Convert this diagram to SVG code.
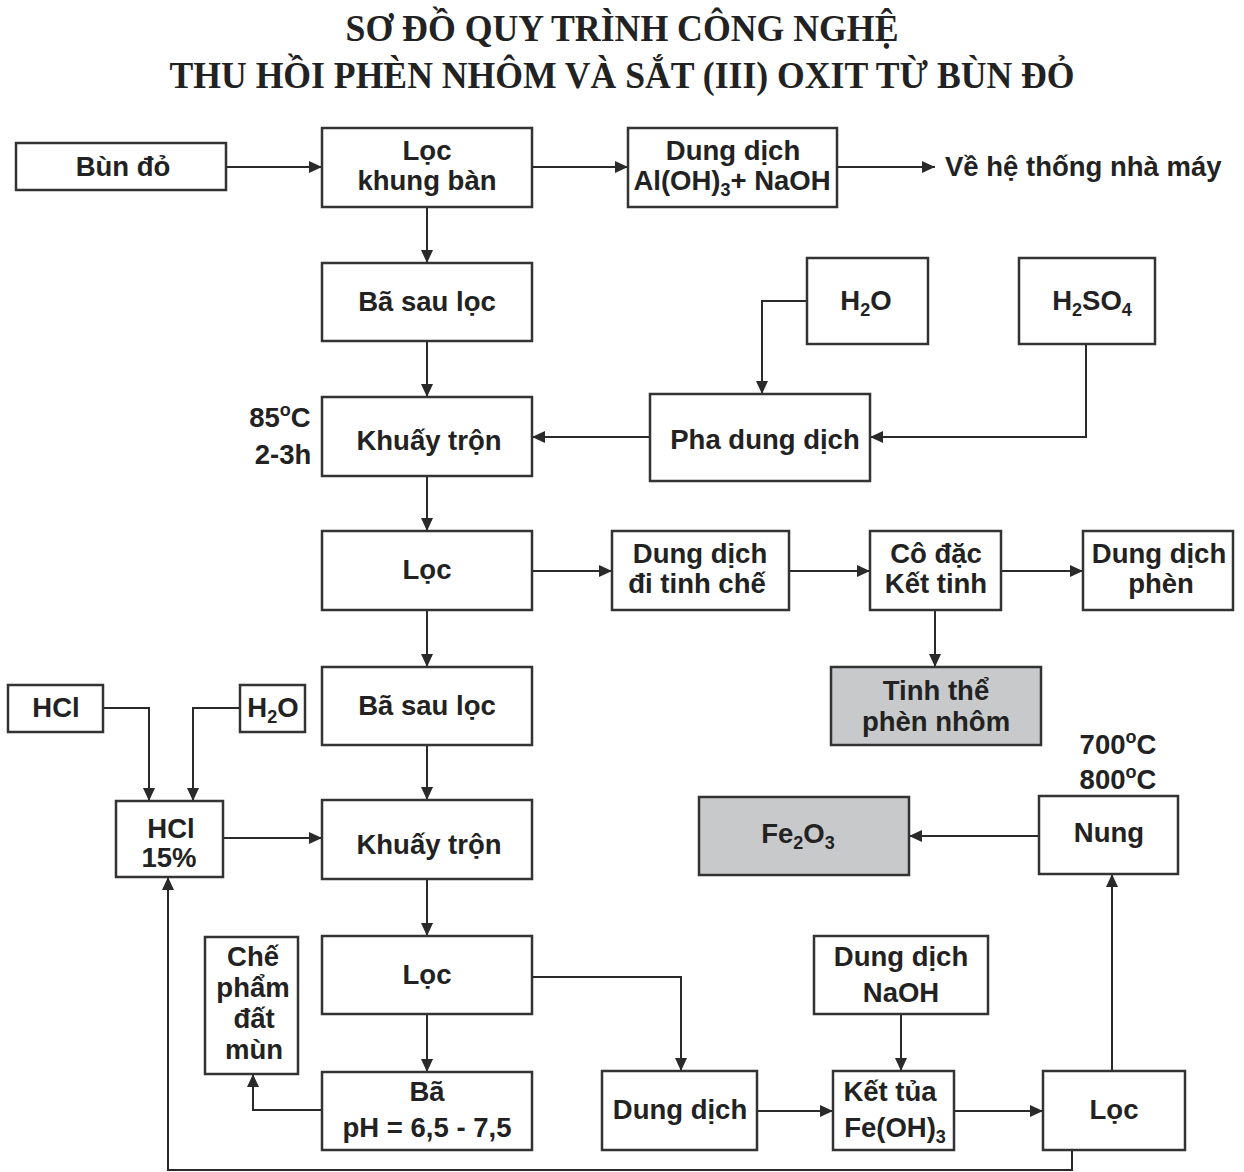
<svg xmlns="http://www.w3.org/2000/svg" width="1244" height="1172" viewBox="0 0 1244 1172">
<defs>
<marker id="ah" markerUnits="userSpaceOnUse" markerWidth="14" markerHeight="12" refX="13" refY="6" orient="auto">
<path d="M0,0 L13,6 L0,12 z" fill="#2a2a2a"/>
</marker>
<style>
.bx{fill:#ffffff;stroke:#333333;stroke-width:2.5}
.gr{fill:#c8c9cb;stroke:#333333;stroke-width:2.5}
.t{font-family:"Liberation Sans",Arial,sans-serif;font-weight:bold;font-size:27.5px;fill:#222222;text-anchor:middle}
.tl{font-family:"Liberation Sans",Arial,sans-serif;font-weight:bold;font-size:27.5px;fill:#222222}
.ttl{font-family:"Liberation Serif","Times New Roman",serif;font-weight:bold;font-size:37px;fill:#222222;text-anchor:middle}
.c{fill:none;stroke:#2a2a2a;stroke-width:2}
.sub{font-size:18px}
</style>
</defs>
<rect width="1244" height="1172" fill="#ffffff"/>

<g id="title">
<text class="ttl" x="622" y="41" textLength="553" lengthAdjust="spacingAndGlyphs">SƠ ĐỒ QUY TRÌNH CÔNG NGHỆ</text>
<text class="ttl" x="622" y="88" textLength="905" lengthAdjust="spacingAndGlyphs">THU HỒI PHÈN NHÔM VÀ SẮT (III) OXIT TỪ BÙN ĐỎ</text>
</g>

<g id="connectors">
<path class="c" marker-end="url(#ah)" d="M226,167 H322"/>
<path class="c" marker-end="url(#ah)" d="M532,167 H628"/>
<path class="c" marker-end="url(#ah)" d="M837,167 H935"/>
<path class="c" marker-end="url(#ah)" d="M427,207 V263"/>
<path class="c" marker-end="url(#ah)" d="M427,341 V397"/>
<path class="c" marker-end="url(#ah)" d="M807,301 H762 V394"/>
<path class="c" marker-end="url(#ah)" d="M1086,344 V437 H870"/>
<path class="c" marker-end="url(#ah)" d="M650,437 H532"/>
<path class="c" marker-end="url(#ah)" d="M427,476 V531"/>
<path class="c" marker-end="url(#ah)" d="M532,571 H612"/>
<path class="c" marker-end="url(#ah)" d="M789,571 H870"/>
<path class="c" marker-end="url(#ah)" d="M1001,571 H1083"/>
<path class="c" marker-end="url(#ah)" d="M935,610 V667"/>
<path class="c" marker-end="url(#ah)" d="M427,610 V667"/>
<path class="c" marker-end="url(#ah)" d="M427,745 V800"/>
<path class="c" marker-end="url(#ah)" d="M103,708 H149 V801"/>
<path class="c" marker-end="url(#ah)" d="M240,708 H193 V801"/>
<path class="c" marker-end="url(#ah)" d="M223,838 H322"/>
<path class="c" marker-end="url(#ah)" d="M427,879 V936"/>
<path class="c" marker-end="url(#ah)" d="M427,1014 V1072"/>
<path class="c" marker-end="url(#ah)" d="M322,1110 H253 V1074"/>
<path class="c" marker-end="url(#ah)" d="M532,977 H681 V1071"/>
<path class="c" marker-end="url(#ah)" d="M901,1014 V1071"/>
<path class="c" marker-end="url(#ah)" d="M757,1111 H833"/>
<path class="c" marker-end="url(#ah)" d="M954,1111 H1043"/>
<path class="c" marker-end="url(#ah)" d="M1112,1071 V874"/>
<path class="c" marker-end="url(#ah)" d="M1039,836 H909"/>
<path class="c" marker-end="url(#ah)" d="M1072,1150 V1170 H168 V877"/>
</g>

<g id="bun-do"><rect class="bx" x="16" y="143" width="210" height="47"/><text class="t" x="123" y="176">Bùn đỏ</text></g>
<g id="loc-khung-ban"><rect class="bx" x="322" y="128" width="210" height="79"/><text class="t" x="427" y="160">Lọc</text><text class="t" x="427" y="190">khung bàn</text></g>
<g id="dd-aloh3"><rect class="bx" x="628" y="128" width="209" height="79"/><text class="t" x="733" y="160">Dung dịch</text><text class="t" x="732" y="190">Al(OH)<tspan class="sub" dy="6">3</tspan><tspan dy="-6">+ NaOH</tspan></text></g>
<g id="ve-he-thong"><text class="tl" x="945" y="176">Về hệ thống nhà máy</text></g>

<g id="ba-sau-loc-1"><rect class="bx" x="322" y="263" width="210" height="78"/><text class="t" x="427" y="311">Bã sau lọc</text></g>
<g id="h2o-1"><rect class="bx" x="807" y="258" width="121" height="86"/><text class="t" x="866" y="310">H<tspan class="sub" dy="6">2</tspan><tspan dy="-6">O</tspan></text></g>
<g id="h2so4"><rect class="bx" x="1019" y="258" width="136" height="86"/><text class="t" x="1092" y="310">H<tspan class="sub" dy="6">2</tspan><tspan dy="-6">SO</tspan><tspan class="sub" dy="6">4</tspan></text></g>

<g id="dieu-kien-1"><text class="t" x="280" y="427">85<tspan class="sub" dy="-11">o</tspan><tspan dy="11">C</tspan></text><text class="t" x="283" y="464">2-3h</text></g>
<g id="khuay-tron-1"><rect class="bx" x="322" y="397" width="210" height="79"/><text class="t" x="429" y="450">Khuấy trộn</text></g>
<g id="pha-dung-dich"><rect class="bx" x="650" y="394" width="220" height="87"/><text class="t" x="765" y="449">Pha dung dịch</text></g>

<g id="loc-1"><rect class="bx" x="322" y="531" width="210" height="79"/><text class="t" x="427" y="579">Lọc</text></g>
<g id="dd-tinh-che"><rect class="bx" x="612" y="531" width="177" height="79"/><text class="t" x="700" y="563">Dung dịch</text><text class="t" x="697" y="593">đi tinh chế</text></g>
<g id="co-dac"><rect class="bx" x="870" y="531" width="131" height="79"/><text class="t" x="936" y="563">Cô đặc</text><text class="t" x="936" y="593">Kết tinh</text></g>
<g id="dd-phen"><rect class="bx" x="1083" y="531" width="150" height="79"/><text class="t" x="1159" y="563">Dung dịch</text><text class="t" x="1161" y="593">phèn</text></g>
<g id="tinh-the"><rect class="gr" x="831" y="667" width="210" height="78"/><text class="t" x="936" y="700">Tinh thể</text><text class="t" x="936" y="731">phèn nhôm</text></g>

<g id="hcl"><rect class="bx" x="8" y="685" width="95" height="47"/><text class="t" x="56" y="717">HCl</text></g>
<g id="h2o-2"><rect class="bx" x="240" y="685" width="65" height="47"/><text class="t" x="273" y="717">H<tspan class="sub" dy="6">2</tspan><tspan dy="-6">O</tspan></text></g>
<g id="ba-sau-loc-2"><rect class="bx" x="322" y="667" width="210" height="78"/><text class="t" x="427" y="715">Bã sau lọc</text></g>
<g id="hcl-15"><rect class="bx" x="116" y="801" width="107" height="76"/><text class="t" x="171" y="838">HCl</text><text class="t" x="169" y="867">15%</text></g>
<g id="khuay-tron-2"><rect class="bx" x="322" y="800" width="210" height="79"/><text class="t" x="429" y="854">Khuấy trộn</text></g>

<g id="nhiet-do"><text class="t" x="1118" y="754">700<tspan class="sub" dy="-11">o</tspan><tspan dy="11">C</tspan></text><text class="t" x="1118" y="789">800<tspan class="sub" dy="-11">o</tspan><tspan dy="11">C</tspan></text></g>
<g id="fe2o3"><rect class="gr" x="699" y="797" width="210" height="78"/><text class="t" x="798" y="843">Fe<tspan class="sub" dy="6">2</tspan><tspan dy="-6">O</tspan><tspan class="sub" dy="6">3</tspan></text></g>
<g id="nung"><rect class="bx" x="1039" y="796" width="139" height="78"/><text class="t" x="1109" y="842">Nung</text></g>

<g id="che-pham"><rect class="bx" x="205" y="937" width="93" height="137"/><text class="t" x="253" y="966">Chế</text><text class="t" x="253" y="997">phẩm</text><text class="t" x="254" y="1028">đất</text><text class="t" x="254" y="1059">mùn</text></g>
<g id="loc-2"><rect class="bx" x="322" y="936" width="210" height="78"/><text class="t" x="427" y="984">Lọc</text></g>
<g id="dd-naoh"><rect class="bx" x="814" y="936" width="174" height="78"/><text class="t" x="901" y="966">Dung dịch</text><text class="t" x="901" y="1002">NaOH</text></g>

<g id="ba-ph"><rect class="bx" x="322" y="1072" width="210" height="78"/><text class="t" x="427" y="1101">Bã</text><text class="t" x="427" y="1137">pH = 6,5 - 7,5</text></g>
<g id="dung-dich"><rect class="bx" x="602" y="1071" width="155" height="79"/><text class="t" x="680" y="1119">Dung dịch</text></g>
<g id="ket-tua"><rect class="bx" x="833" y="1071" width="121" height="79"/><text class="t" x="890" y="1101">Kết tủa</text><text class="t" x="895" y="1137">Fe(OH)<tspan class="sub" dy="6">3</tspan></text></g>
<g id="loc-3"><rect class="bx" x="1043" y="1071" width="142" height="79"/><text class="t" x="1114" y="1119">Lọc</text></g>
</svg>
